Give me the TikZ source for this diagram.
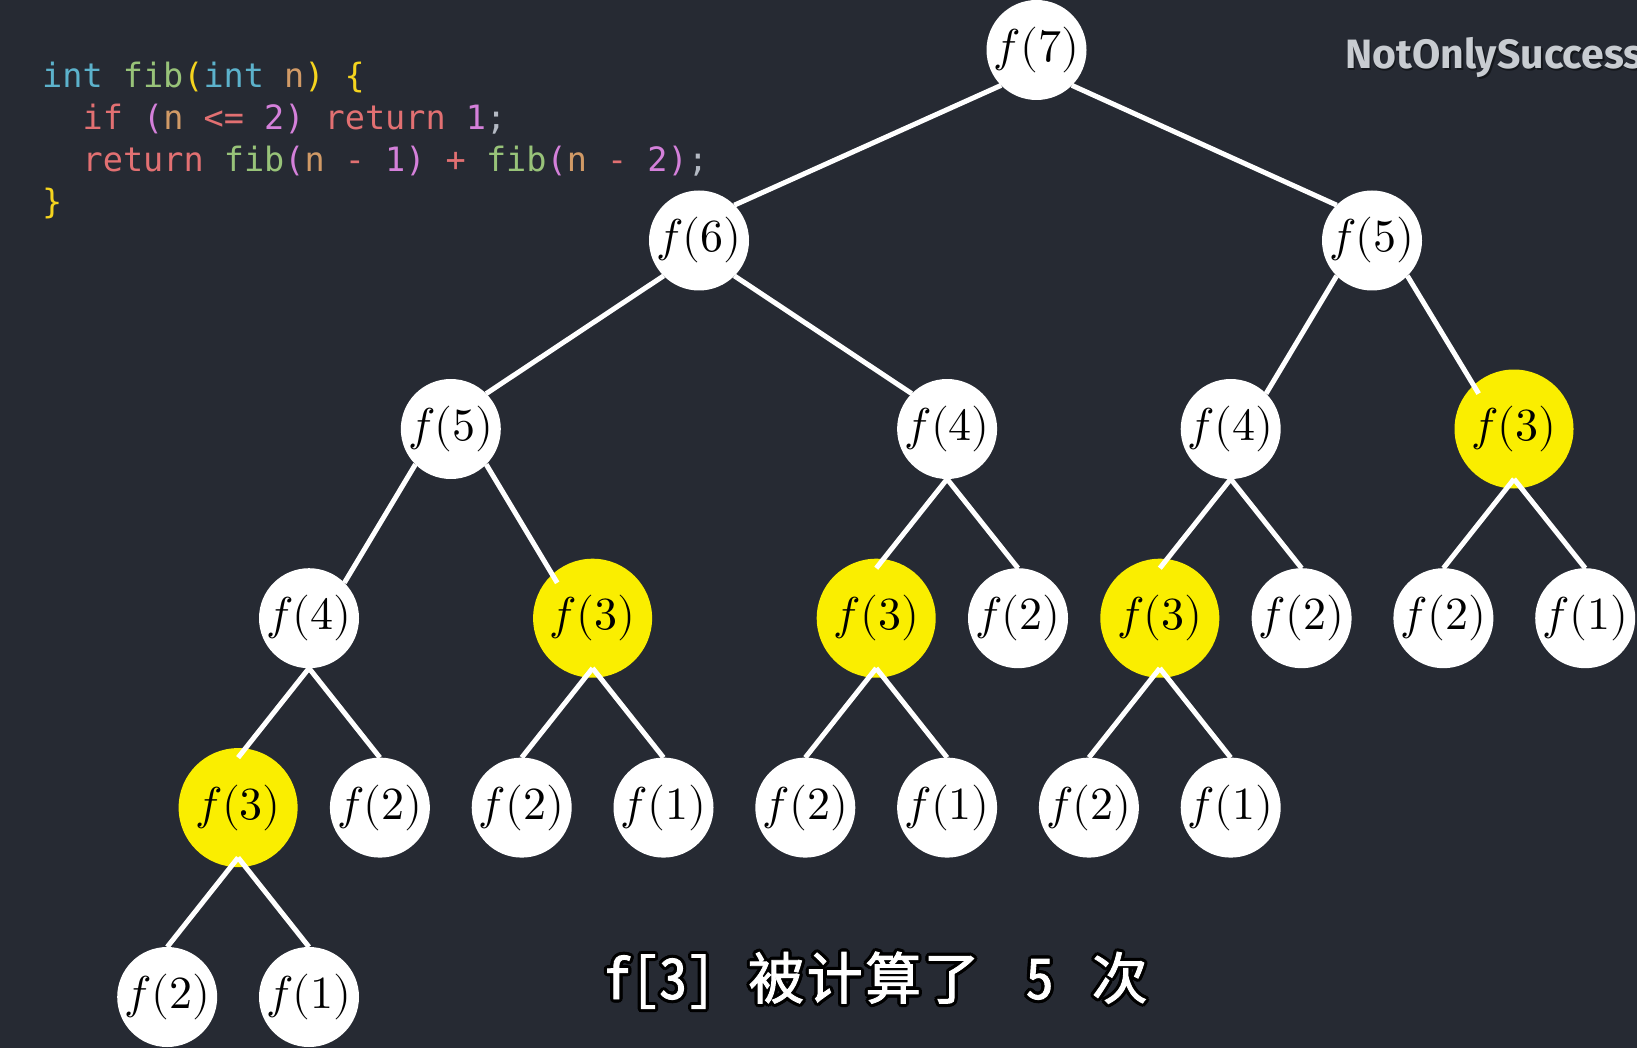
\documentclass[tikz,border=0pt]{standalone}
\usepackage{fontspec}
\usepackage{unicode-math}
\setmathfont{Latin Modern Math}
\newfontfamily\codefont{DejaVu Sans Mono}
\newfontfamily\wmfont{Fira Sans}
\newfontfamily\cjkfont[RawFeature={+hwid},FakeBold=1.6]{Noto Sans CJK SC}
\definecolor{bgc}{RGB}{38,42,51}
\definecolor{cint}{RGB}{92,178,204}
\definecolor{cfn}{RGB}{152,195,121}
\definecolor{cbra}{RGB}{245,212,30}
\definecolor{cnn}{RGB}{209,154,102}
\definecolor{cred}{RGB}{226,112,114}
\definecolor{cpk}{RGB}{212,128,218}
\definecolor{csemi}{RGB}{180,186,196}
\definecolor{wmc}{RGB}{200,204,209}
\definecolor{hl}{RGB}{250,238,0}
\tikzset{
  fnode/.style={circle, fill=white, minimum size=100pt, inner sep=0pt, text=black, font=\fontsize{46}{46}\selectfont},
  ynode/.style={fnode, fill=hl, minimum size=119pt},
  edge/.style={draw=white, line width=5pt},
  codeline/.style={anchor=base west, inner sep=0pt, font=\codefont\fontsize{33.5}{33.5}\selectfont},
  subt/.style={anchor=base west, inner sep=0pt, font=\cjkfont\fontsize{56}{56}\selectfont},
  wmark/.style={anchor=base west, inner sep=0pt, font=\wmfont\bfseries\fontsize{41}{41}\selectfont},
}
\newcommand{\subtext}{f[3]\hspace{33pt}被\hspace{2.5pt}计\hspace{2.5pt}算\hspace{2.5pt}了\hspace{46pt}5\hspace{38pt}次}
\begin{document}
\begin{tikzpicture}[x=1pt,y=-1pt]
\fill[bgc] (0,0) rectangle (1637,1048);
\useasboundingbox (0,0) rectangle (1637,1048);

% code
\node[codeline] (c1) at (42,88) {\textcolor{cint}{int} \textcolor{cfn}{fib}\textcolor{cbra}{(}\textcolor{cint}{int} \textcolor{cnn}{n}\textcolor{cbra}{)} \textcolor{cbra}{\{}};
\node[codeline] (c2) at (82.5,130) {\textcolor{cred}{if} \textcolor{cpk}{(}\textcolor{cnn}{n} \textcolor{cred}{<=} \textcolor{cpk}{2)} \textcolor{cred}{return} \textcolor{cpk}{1}\textcolor{csemi}{;}};
\node[codeline] (c3) at (82.5,172) {\textcolor{cred}{return} \textcolor{cfn}{fib}\textcolor{cpk}{(}\textcolor{cnn}{n} \textcolor{cred}{-} \textcolor{cpk}{1)} \textcolor{cred}{+} \textcolor{cfn}{fib}\textcolor{cpk}{(}\textcolor{cnn}{n} \textcolor{cred}{-} \textcolor{cpk}{2)}\textcolor{csemi}{;}};
\node[codeline] (c4) at (42,214) {\textcolor{cbra}{\}}};

% watermark
\node[wmark, text=black, opacity=0.45] at (1346.5,70.5) {NotOnlySuccess};
\node[wmark, text=wmc] (wm) at (1345,69) {NotOnlySuccess};

% tree nodes
\node[fnode] (n7) at (1036.5,50) {$f(7)$};
\node[fnode] (n6) at (699,240.5) {$f(6)$};
\node[fnode] (n5r) at (1372,240.5) {$f(5)$};
\node[fnode] (a5) at (450.8,429) {$f(5)$};
\node[fnode] (a4) at (947.1,429) {$f(4)$};
\node[fnode] (b4) at (1230.7,429) {$f(4)$};
\node[ynode] (b3) at (1514,429) {$f(3)$};
\node[fnode] (c4n) at (309,618.2) {$f(4)$};
\node[ynode] (c3n) at (592.6,618.2) {$f(3)$};
\node[ynode] (d3) at (876.2,618.2) {$f(3)$};
\node[fnode] (d2) at (1018,618.2) {$f(2)$};
\node[ynode] (e3) at (1159.8,618.2) {$f(3)$};
\node[fnode] (e2) at (1301.6,618.2) {$f(2)$};
\node[fnode] (g2) at (1443.4,618.2) {$f(2)$};
\node[fnode] (g1) at (1585.2,618.2) {$f(1)$};
\node[ynode] (h3) at (238.1,807.6) {$f(3)$};
\node[fnode] (h2) at (379.9,807.6) {$f(2)$};
\node[fnode] (i2) at (521.7,807.6) {$f(2)$};
\node[fnode] (i1) at (663.5,807.6) {$f(1)$};
\node[fnode] (j2) at (805.3,807.6) {$f(2)$};
\node[fnode] (j1) at (947.1,807.6) {$f(1)$};
\node[fnode] (k2) at (1088.9,807.6) {$f(2)$};
\node[fnode] (k1) at (1230.7,807.6) {$f(1)$};
\node[fnode] (l2) at (167.2,997) {$f(2)$};
\node[fnode] (l1) at (309,997) {$f(1)$};

% edges: diagonal (child to the left)
\foreach \p/\c in {n7/n6,n6/a5,n5r/b4,a5/c4n}
  \draw[edge] ([shift={(-35.36,35.36)}]\p.center) -- ([shift={(35.36,-35.36)}]\c.center);
% edges: diagonal (child to the right)
\foreach \p/\c in {n7/n5r,n6/a4,n5r/b3,a5/c3n}
  \draw[edge] ([shift={(35.36,35.36)}]\p.center) -- ([shift={(-35.36,-35.36)}]\c.center);
% edges: bottom to top
\foreach \p/\c in {a4/d3,a4/d2,b4/e3,b4/e2,b3/g2,b3/g1,c4n/h3,c4n/h2,c3n/i2,c3n/i1,d3/j2,d3/j1,e3/k2,e3/k1,h3/l2,h3/l1}
  \draw[edge] ([shift={(0,50)}]\p.center) -- ([shift={(0,-50)}]\c.center);

% subtitle with outline
\coordinate (sb) at (603,999);
\foreach \a in {0,30,...,330}
  \node[subt, text=black] at ([shift={(\a:3.2)}]sb) {\subtext};
\node[subt, text=white] (sub) at (sb) {\subtext};
\end{tikzpicture}
\end{document}
